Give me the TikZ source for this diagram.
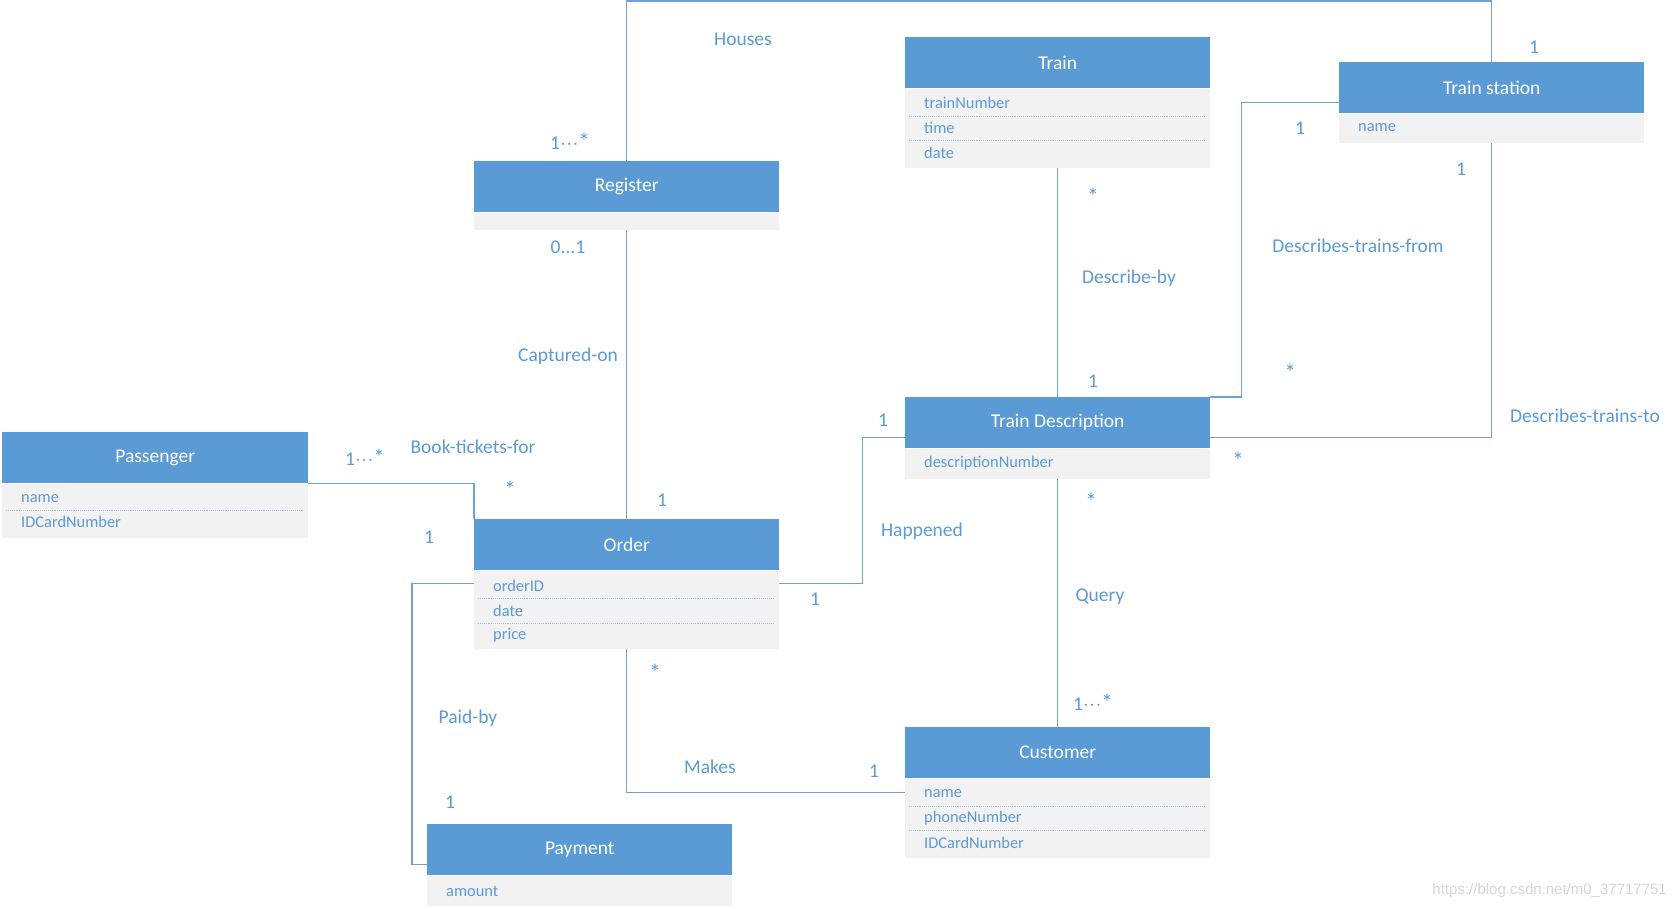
\documentclass[tikz,border=0pt]{standalone}
\usepackage{fontspec}
\setmainfont{Carlito}
\newfontfamily\wmfont{Liberation Sans}
\definecolor{hblue}{HTML}{5B9BD5}
\definecolor{lblue}{HTML}{6FA2D8}
\definecolor{sepc}{HTML}{9DC3E6}
\definecolor{bodyc}{HTML}{F2F2F2}
\definecolor{wmc}{HTML}{D6D6D6}
\newcommand{\umlcls}[6]{%
  \node[hdr, minimum width=#6pt, anchor=north west] (#1) at (#2,#3) {#4};
  \node[bdy, minimum width=#6pt, minimum height=#5pt, anchor=north west] (#1b) at (#1.south west) {};
}
\newcommand{\mystar}{{\fontsize{23}{23}\selectfont *}}
\newcommand{\onemany}{1$\mkern0mu\cdot\mkern-3.5mu\cdot\mkern-3.5mu\cdot\mkern0mu$\mystar}
\begin{document}
\begin{tikzpicture}[x=1pt,y=-1pt,
  hdr/.style={rectangle, fill=hblue, text=white, minimum height=51pt, inner sep=0pt, font=\fontsize{19.5}{20}\selectfont},
  bdy/.style={rectangle, fill=bodyc, inner sep=0pt},
  attr/.style={anchor=west, text=hblue, inner sep=0pt, font=\fontsize{16.4}{17}\selectfont},
  lbl/.style={text=hblue, inner sep=0pt, font=\fontsize{19.5}{20}\selectfont},
  sep/.style={sepc, densely dotted, line width=0.9pt},
  conn/.style={lblue, line width=1.2pt}]
\useasboundingbox (0,0) rectangle (1675,909);
\fill[white] (0,0) rectangle (1675,909);

% classes
\umlcls{reg}{474}{161}{Register}{17}{305}
\umlcls{train}{905}{37}{Train}{79}{305}
\umlcls{st}{1339}{62}{Train station}{29}{305}
\umlcls{pass}{2}{432}{Passenger}{54}{306}
\umlcls{order}{474}{519}{Order}{78}{305}
\umlcls{td}{905}{397}{Train Description}{30}{305}
\umlcls{cus}{905}{727}{Customer}{79}{305}
\umlcls{pay}{427}{824}{Payment}{30}{305}

% attributes
\node[attr] (trA) at (924,103) {trainNumber};
\node[attr] (trB) at (924,128) {time};
\node[attr] (trC) at (924,153) {date};
\draw[sep] (909,116) -- (1205,116);
\draw[sep] (909,140) -- (1205,140);
\node[attr] (stA) at (1358,128) {name};
\node[attr] (paA) at (21,499) {name};
\node[attr] (paB) at (21,522) {IDCardNumber};
\draw[sep] (6,510) -- (303,510);
\node[attr] (orA) at (493,586) {orderID};
\node[attr] (orB) at (493,611) {date};
\node[attr] (orC) at (493,635) {price};
\draw[sep] (478,598) -- (774,598);
\draw[sep] (478,623) -- (774,623);
\node[attr] (tdA) at (924,463) {descriptionNumber};
\node[attr] (cuA) at (924,794) {name};
\node[attr] (cuB) at (924,818) {phoneNumber};
\node[attr] (cuC) at (924,843) {IDCardNumber};
\draw[sep] (909,806) -- (1205,806);
\draw[sep] (909,830) -- (1205,830);
\node[attr] (pyA) at (446,891) {amount};

% connectors
\draw[conn] (reg.north) -- ++(0,-160) -| (st.north);
\draw[conn] (regb.south) -- (order.north);
\draw[conn] (pass.south east) -| (order.north west);
\draw[conn] ([yshift=-13pt]orderb.north west) -- ++(-62,0) |- ([yshift=11pt]pay.south west);
\draw[conn] ([yshift=-13pt]orderb.north east) -- ++(83,0) |- ([yshift=11pt]td.south west);
\draw[conn] (orderb.south) |- ([yshift=-14pt]cusb.north west);
\draw[conn] (trainb.south) -- (td.north);
\draw[conn] (tdb.south) -- (cus.north);
\draw[conn] (td.north east) -- ++(31,0) |- ([yshift=11pt]st.south west);
\draw[conn] ([yshift=11pt]td.south east) -| (stb.south);

% labels
\node[lbl] (l1) at (743,39) {Houses};
\node[lbl] (l2) at (570,141) {\onemany};
\node[lbl] (l3) at (568,247) {0...1};
\node[lbl] (l4) at (568,356) {Captured-on};
\node[lbl] (l5) at (662,500) {1};
\node[lbl] (l6) at (510,489) {\mystar};
\node[lbl] (l7) at (365,457) {\onemany};
\node[lbl] (l8) at (473,447) {Book-tickets-for};
\node[lbl] (l9) at (429,537) {1};
\node[lbl] (l10) at (468,718) {Paid-by};
\node[lbl] (l11) at (450,802) {1};
\node[lbl] (l12) at (655,672) {\mystar};
\node[lbl] (l13) at (710,767) {Makes};
\node[lbl] (l14) at (874,771) {1};
\node[lbl] (l15) at (883,420) {1};
\node[lbl] (l16) at (922,531) {Happened};
\node[lbl] (l17) at (815,599) {1};
\node[lbl] (l18) at (1093,196) {\mystar};
\node[lbl] (l19) at (1129,278) {Describe-by};
\node[lbl] (l20) at (1093,381) {1};
\node[lbl] (l21) at (1091,501) {\mystar};
\node[lbl] (l22) at (1100,597) {Query};
\node[lbl] (l23) at (1093,702) {\onemany};
\node[lbl] (l24) at (1534,47) {1};
\node[lbl] (l25) at (1300,128) {1};
\node[lbl] (l26) at (1461,169) {1};
\node[lbl] (l27) at (1358,246) {Describes-trains-from};
\node[lbl] (l28) at (1290,372) {\mystar};
\node[lbl, anchor=west] (l29) at (1510,416) {Describes-trains-to};
\node[lbl] (l30) at (1238,460) {\mystar};
\node[text=wmc, inner sep=0pt, font=\wmfont\fontsize{15}{15}\selectfont, anchor=east] (wm) at (1667,891) {https://blog.csdn.net/m0\_37717751};
\end{tikzpicture}
\end{document}
